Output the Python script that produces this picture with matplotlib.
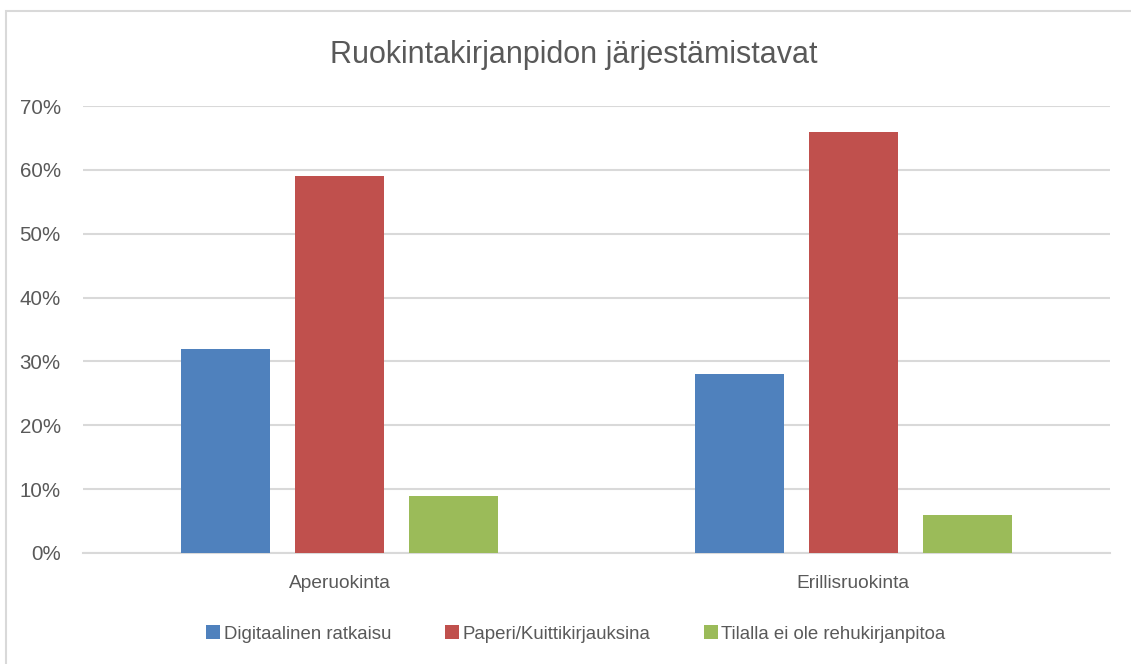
import matplotlib
matplotlib.use("Agg")
import matplotlib.pyplot as plt
import matplotlib.patches as mpatches
from matplotlib.ticker import FuncFormatter
import numpy as np

# data
categories = ["Aperuokinta", "Erillisruokinta"]
series_names = ["Digitaalinen ratkaisu", "Paperi/Kuittikirjauksina",
                "Tilalla ei ole rehukirjanpitoa"]
digitaalinen = [0.32, 0.28]
paperi = [0.59, 0.66]
ei_kirjanpitoa = [0.09, 0.06]
yticks = [0, 0.1, 0.2, 0.3, 0.4, 0.5, 0.6, 0.7]

COLORS = ["#4F81BD", "#C0504D", "#9BBB59"]
TEXT = "#595959"
GRID = "#D9D9D9"

plt.rcParams["font.family"] = ["Liberation Sans", "DejaVu Sans"]

W, H = 1131, 664
fig = plt.figure(figsize=(W / 100, H / 100), dpi=100)
fig.patch.set_facecolor("white")

# chart border (runs off the right and bottom edges)
fig.patches.append(mpatches.Rectangle((5.5 / W, -0.1), 1.2, 1 - 10.5 / H + 0.1,
                                      transform=fig.transFigure, fill=False,
                                      edgecolor=GRID, linewidth=1.5))

ax = fig.add_axes([83 / W, 1 - 553 / H, (1110 - 83) / W, (553 - 106) / H])

x = np.arange(len(categories))
bw = 0.173
step = 0.222
for i, vals in enumerate([digitaalinen, paperi, ei_kirjanpitoa]):
    ax.bar(x + (i - 1) * step, vals, width=bw, color=COLORS[i], zorder=3,
           label=series_names[i])

ax.set_xlim(-0.5, len(categories) - 0.5)
ax.set_ylim(0, 0.70)
ax.set_yticks(yticks)
ax.yaxis.set_major_formatter(FuncFormatter(lambda v, p: f"{v * 100:.0f}%"))
ax.set_xticks(x)
ax.set_xticklabels(categories)
ax.grid(axis="y", color=GRID, linewidth=1.5, zorder=0)
ax.set_axisbelow(True)
for s in ["top", "left", "right"]:
    ax.spines[s].set_visible(False)
ax.spines["bottom"].set_color(GRID)
ax.spines["bottom"].set_linewidth(1.5)
ax.tick_params(axis="y", length=0, pad=16, labelsize=14.8, labelcolor=TEXT)
ax.tick_params(axis="x", length=0, pad=15.5, labelsize=13.8, labelcolor=TEXT)

fig.text(574 / W, 1 - 55 / H, "Ruokintakirjanpidon järjestämistavat",
         ha="center", va="center", fontsize=22, color=TEXT)

handles, labels = ax.get_legend_handles_labels()
fig.legend(handles, labels, loc="center", ncol=3, frameon=False,
           bbox_to_anchor=(576 / W, 1 - 634 / H), fontsize=13.4,
           labelcolor=TEXT, handlelength=0.76, handleheight=0.76,
           handletextpad=0.17, columnspacing=2.9)

fig.savefig("out.png", dpi=100, facecolor="white")
